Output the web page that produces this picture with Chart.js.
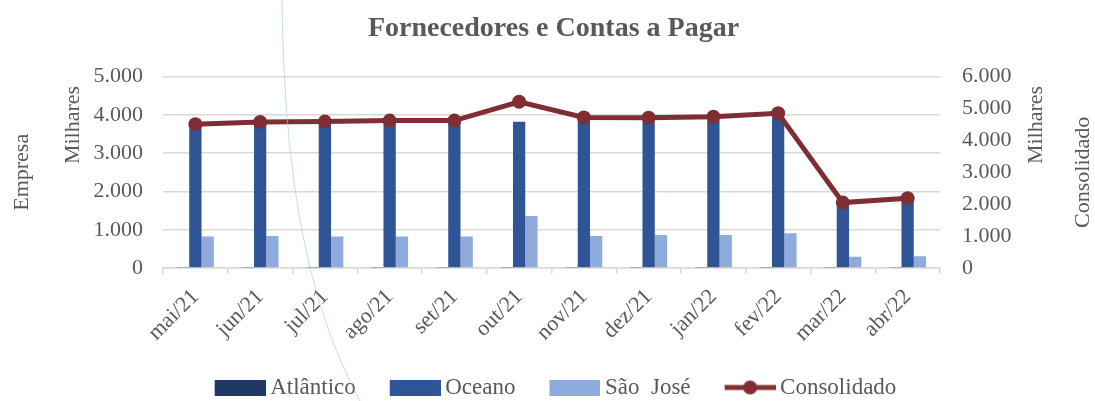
<!DOCTYPE html>
<html lang="pt-BR">
<head>
<meta charset="utf-8">
<title>Fornecedores e Contas a Pagar</title>
<script src="https://cdn.jsdelivr.net/npm/chart.js@4/dist/chart.umd.min.js"></script>
<style>
  html, body { margin: 0; padding: 0; background: #ffffff; }
  #wrap { width: 1095px; height: 401px; }
</style>
</head>
<body>
<div id="wrap"><canvas id="grafico" width="1095" height="401"></canvas></div>
<script>
const meses = ["mai/21", "jun/21", "jul/21", "ago/21", "set/21", "out/21", "nov/21", "dez/21", "jan/22", "fev/22", "mar/22", "abr/22"];

// valores em milhares
const atlantico = [15, 15, 15, 15, 15, 15, 15, 15, 15, 15, 15, 15];
const oceano = [3700, 3760, 3770, 3800, 3800, 3820, 3870, 3840, 3870, 3930, 1740, 1860];
const saoJose = [820, 835, 820, 820, 820, 1360, 835, 860, 860, 905, 295, 310];
const consolidado = [4510, 4580, 4590, 4620, 4620, 5210, 4720, 4710, 4740, 4850, 2050, 2190];

const ticksEmpresa = [0, 1000, 2000, 3000, 4000, 5000];
const ticksConsolidado = [0, 1000, 2000, 3000, 4000, 5000, 6000];

const corTexto = "#595959";
const corGrade = "#d9d9d9";
const fonte = "'Liberation Serif', 'Times New Roman', serif";

const cores = {
  atlantico: "#1f3864",
  oceano: "#2f5597",
  saoJose: "#8faadc",
  consolidado: "#7f2f33",
};

function formatarMilhar(v) {
  return String(v).replace(/\B(?=(\d{3})+(?!\d))/g, ".");
}

// icones da legenda: espaco vazio a esquerda separa os itens,
// a caixa fica encostada no texto
function iconeCaixa(cor) {
  const c = document.createElement("canvas");
  c.width = 82;
  c.height = 16;
  const ctx = c.getContext("2d");
  ctx.fillStyle = cor;
  ctx.fillRect(31, 0, 51, 16);
  return c;
}

function iconeLinha(cor) {
  const c = document.createElement("canvas");
  c.width = 82;
  c.height = 16;
  const ctx = c.getContext("2d");
  ctx.strokeStyle = cor;
  ctx.lineWidth = 5;
  ctx.beginPath();
  ctx.moveTo(31, 8);
  ctx.lineTo(82, 8);
  ctx.stroke();
  ctx.fillStyle = cor;
  ctx.beginPath();
  ctx.arc(56.5, 8, 7, 0, Math.PI * 2);
  ctx.fill();
  return c;
}

const pluginTitulosEixos = {
  id: "pluginTitulosEixos",
  afterLayout(chart) {
    // ajusta a posicao da legenda, como no original
    chart.legend.top += 8;
    chart.legend.bottom += 8;
    chart.legend.left -= 10;
    chart.legend.right -= 10;
  },
  afterDraw(chart) {
    const { ctx, chartArea } = chart;
    const meio = (chartArea.top + chartArea.bottom) / 2;
    const textos = [
      { t: "Empresa", x: 22, y: meio },
      { t: "Milhares", x: 73, y: 125 },
      { t: "Milhares", x: 1036, y: 125 },
      { t: "Consolidado", x: 1083, y: meio },
    ];
    ctx.save();
    ctx.font = "22px " + fonte;
    ctx.fillStyle = corTexto;
    ctx.textAlign = "center";
    ctx.textBaseline = "middle";
    textos.forEach((item) => {
      ctx.save();
      ctx.translate(item.x, item.y);
      ctx.rotate(-Math.PI / 2);
      ctx.fillText(item.t, 0, 0);
      ctx.restore();
    });

    // traco claro que atravessa a imagem original
    ctx.strokeStyle = "rgba(150, 200, 220, 0.6)";
    ctx.lineWidth = 1;
    ctx.beginPath();
    ctx.moveTo(282, 0);
    ctx.bezierCurveTo(284, 150, 300, 290, 360, 401);
    ctx.stroke();
    ctx.restore();
  },
};

const icones = [
  iconeCaixa(cores.atlantico),
  iconeCaixa(cores.oceano),
  iconeCaixa(cores.saoJose),
  iconeLinha(cores.consolidado),
];

new Chart(document.getElementById("grafico").getContext("2d"), {
  type: "bar",
  data: {
    labels: meses,
    datasets: [
      {
        type: "line",
        label: "Consolidado",
        data: consolidado,
        yAxisID: "y1",
        borderColor: cores.consolidado,
        backgroundColor: cores.consolidado,
        borderWidth: 5,
        pointRadius: 7,
        pointHoverRadius: 7,
        pointBackgroundColor: cores.consolidado,
        pointBorderWidth: 0,
        tension: 0,
        order: 0,
      },
      {
        label: "Atlântico",
        data: atlantico,
        yAxisID: "y",
        backgroundColor: cores.atlantico,
        order: 1,
      },
      {
        label: "Oceano",
        data: oceano,
        yAxisID: "y",
        backgroundColor: cores.oceano,
        order: 1,
      },
      {
        label: "São  José",
        data: saoJose,
        yAxisID: "y",
        backgroundColor: cores.saoJose,
        order: 1,
      },
    ],
  },
  options: {
    responsive: false,
    animation: false,
    layout: { padding: { left: 12, right: 0, top: 0, bottom: 0 } },
    datasets: {
      bar: { categoryPercentage: 0.57, barPercentage: 1 },
    },
    plugins: {
      title: {
        display: true,
        text: "Fornecedores e Contas a Pagar",
        color: corTexto,
        font: { family: fonte, size: 28, weight: "bold" },
        padding: { top: 12, bottom: 31 },
      },
      legend: {
        position: "bottom",
        labels: {
          color: corTexto,
          font: { family: fonte, size: 23 },
          usePointStyle: true,
          pointStyleWidth: 68,
          boxHeight: 16,
          padding: 10,
          generateLabels: (chart) => {
            const ordem = [1, 2, 3, 0];
            return ordem.map((i, k) => ({
              text: chart.data.datasets[i].label,
              pointStyle: icones[k],
              fillStyle: "transparent",
              strokeStyle: "transparent",
              lineWidth: 0,
              fontColor: corTexto,
              datasetIndex: i,
              hidden: false,
            }));
          },
        },
      },
      tooltip: { enabled: false },
    },
    scales: {
      x: {
        offset: true,
        grid: {
          offset: true,
          drawOnChartArea: false,
          color: corGrade,
          lineWidth: 1.5,
          tickLength: 6,
        },
        border: { display: true, color: corGrade, width: 1.5 },
        ticks: {
          color: corTexto,
          font: { family: fonte, size: 22 },
          maxRotation: 45,
          minRotation: 45,
          autoSkip: false,
          padding: 10,
        },
        afterFit: (scale) => {
          scale.height = 90;
        },
      },
      y: {
        position: "left",
        min: 0,
        max: 5000,
        afterBuildTicks: (scale) => {
          scale.ticks = ticksEmpresa.map((v) => ({ value: v }));
        },
        grid: { color: corGrade, lineWidth: 1.5, drawTicks: false },
        border: { display: false },
        ticks: {
          color: corTexto,
          font: { family: fonte, size: 22 },
          autoSkip: false,
          padding: 20,
          callback: (v) => formatarMilhar(v),
        },
        afterFit: (scale) => {
          scale.width = 151;
        },
      },
      y1: {
        position: "right",
        min: 0,
        max: 6000,
        afterBuildTicks: (scale) => {
          scale.ticks = ticksConsolidado.map((v) => ({ value: v }));
        },
        grid: { display: false, drawTicks: false },
        border: { display: false },
        ticks: {
          color: corTexto,
          font: { family: fonte, size: 22 },
          autoSkip: false,
          padding: 22,
          callback: (v) => formatarMilhar(v),
        },
        afterFit: (scale) => {
          scale.width = 155;
        },
      },
    },
  },
  plugins: [pluginTitulosEixos],
});
</script>
</body>
</html>
